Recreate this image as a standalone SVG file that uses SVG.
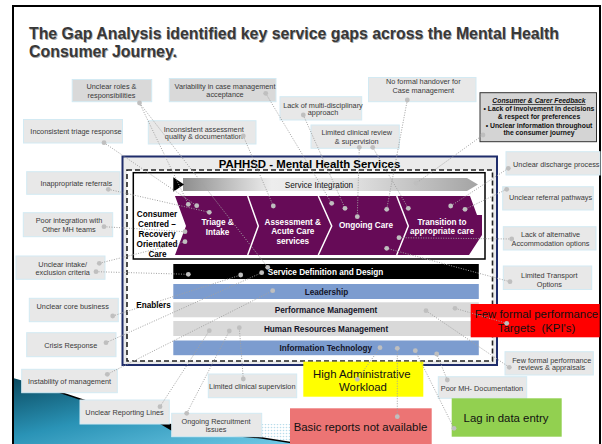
<svg xmlns="http://www.w3.org/2000/svg" width="602" height="444" viewBox="0 0 602 444">
  <defs>
    <linearGradient id="waveFill" x1="0" y1="0" x2="1" y2="1">
      <stop offset="0" stop-color="#0a4a60"/>
      <stop offset="0.45" stop-color="#2a93b6"/>
      <stop offset="1" stop-color="#72cbe8"/>
    </linearGradient>
    <linearGradient id="integration" x1="0" y1="0" x2="1" y2="0">
      <stop offset="0" stop-color="#8e8e8e"/>
      <stop offset="0.3" stop-color="#ededed"/>
      <stop offset="0.55" stop-color="#e4e4e4"/>
      <stop offset="1" stop-color="#a4a4a4"/>
    </linearGradient>
    <pattern id="halftone" width="3" height="3" patternUnits="userSpaceOnUse">
      <circle cx="1.5" cy="1.5" r="0.8" fill="#b9dcea"/>
    </pattern>
    <style>
      text { font-family: "Liberation Sans", Arial, sans-serif; }
      .cb { fill: #e8e8e8; stroke: #d3eaf3; stroke-width: 1; }
      .cbd { fill: #d9d9d9; stroke: #d3eaf3; stroke-width: 1; }
      .ct { font-size: 7.3px; fill: #3a3a3a; text-anchor: middle; }
      .big { font-size: 11.4px; fill: #111; text-anchor: middle; }
      .bt { font-size: 8.2px; font-weight: bold; fill: #141428; text-anchor: middle; }
      .pt { font-size: 8.2px; font-weight: bold; fill: #ffffff; text-anchor: middle; }
      .kt { font-size: 8.2px; font-weight: bold; fill: #000; text-anchor: middle; }
      .ft { font-size: 6.8px; font-weight: bold; fill: #111; text-anchor: middle; }
      .cn { stroke: #a2a2a2; stroke-width: 1; stroke-dasharray: 1 1.5; fill: none; }
      .dt { fill: #bfbfbf; }
      .ttl { font-size: 17px; font-weight: bold; }
    </style>
  </defs>

  <!-- page -->
  <rect x="0" y="0" width="602" height="444" fill="#ffffff"/>

  <!-- wave in the lower left corner -->
  <path d="M13,378 C40,385 60,392 80,399 C110,409 140,417 170,425 C200,432 235,436 262,438 L300,444 L13,444 Z" fill="url(#waveFill)"/>
  <path d="M240,424 L300,424 L300,443 L262,437 Z" fill="url(#halftone)"/>
  <path d="M30,383 C50,389 62,393 80,399 C110,409 140,417 170,425 C200,432 235,436 262,438 L300,444" fill="none" stroke="#000" stroke-width="1.4"/>
  <path d="M150,418 L178,426 L172,431 Z" fill="#000"/>

  <!-- frame -->
  <rect x="13" y="6" width="587" height="450" fill="none" stroke="#000" stroke-width="2"/>

  <!-- title -->
  <g id="title">
    <text class="ttl" x="29.8" y="39.8" fill="#a8a8a8" textLength="530" lengthAdjust="spacingAndGlyphs">The Gap Analysis identified key service gaps across the Mental Health</text>
    <text class="ttl" x="29.8" y="57.8" fill="#a8a8a8" textLength="148" lengthAdjust="spacingAndGlyphs">Consumer Journey.</text>
    <text class="ttl" x="29" y="39" fill="#383838" textLength="530" lengthAdjust="spacingAndGlyphs">The Gap Analysis identified key service gaps across the Mental Health</text>
    <text class="ttl" x="29" y="57" fill="#383838" textLength="148" lengthAdjust="spacingAndGlyphs">Consumer Journey.</text>
  </g>

  <!-- central services panel -->
  <g id="services">
    <rect x="122.5" y="156.5" width="374.5" height="208.5" fill="#ebebeb" stroke="#1f2d6b" stroke-width="2"/>
    <rect x="127" y="170" width="365.5" height="191" fill="#ffffff" stroke="#222" stroke-width="1.6" stroke-dasharray="5 3"/>
    <text x="309.5" y="167.5" font-size="11.4" font-weight="bold" fill="#000" text-anchor="middle">PAHHSD - Mental Health Services</text>
  </g>

  <g id="journey">
    <rect x="133.3" y="172.7" width="351.7" height="86.3" fill="#ffffff" stroke="#000" stroke-width="1.5"/>
    <polygon points="183,178 467,178 478,184.5 467,191 183,191" fill="url(#integration)"/>
    <polygon points="173.3,177.3 184,184.5 173.3,191.7" fill="#000"/>
    <text x="319" y="187.5" font-size="8.2" fill="#111" text-anchor="middle">Service Integration</text>
    <path d="M175,196 L470,196 L477,215 L482,215 L482,235 L469,255 L175,255 L186,226 Z" fill="#660b57"/>
    <polyline points="247.7,196 258.3,226 247.7,255" fill="none" stroke="#fff" stroke-width="1.5"/>
    <polyline points="318.3,196 331.7,226 318.3,255" fill="none" stroke="#fff" stroke-width="1.5"/>
    <polyline points="396.7,196 408.3,226 396.7,255" fill="none" stroke="#fff" stroke-width="1.5"/>
    <text class="kt" x="157" y="216.5">Consumer</text>
    <text class="kt" x="157" y="226.5">Centred –</text>
    <text class="kt" x="157" y="236.5">Recovery</text>
    <text class="kt" x="157" y="246.5">Orientated</text>
    <text class="kt" x="157.5" y="256.5">Care</text>
    <text class="pt" x="217.6" y="225">Triage &amp;</text>
    <text class="pt" x="217.6" y="234.5">Intake</text>
    <text class="pt" x="292.8" y="224.5">Assessment &amp;</text>
    <text class="pt" x="292.8" y="234">Acute Care</text>
    <text class="pt" x="292.8" y="243.5">services</text>
    <text class="pt" x="366" y="227.5">Ongoing Care</text>
    <text class="pt" x="442" y="224.5">Transition to</text>
    <text class="pt" x="442" y="234">appropriate care</text>
  </g>

  <g id="enablers">
    <rect x="173.3" y="264" width="305.5" height="15" fill="#000"/>
    <text class="pt" x="325.5" y="274.8">Service Definition and Design</text>
    <rect x="173.3" y="284" width="305.5" height="15" fill="#7c9ccf"/>
    <text class="bt" x="326.5" y="294.5">Leadership</text>
    <rect x="173.3" y="302.3" width="305.5" height="15" fill="#d9d9d9"/>
    <text class="bt" x="326" y="312.8">Performance Management</text>
    <rect x="173.3" y="321" width="305.5" height="15" fill="#d9d9d9"/>
    <text class="bt" x="326" y="331.6">Human Resources Management</text>
    <rect x="173.3" y="340.5" width="305.5" height="14.7" fill="#7c9ccf"/>
    <text class="bt" x="325.7" y="350.8">Information Technology</text>
    <text class="kt" x="153.5" y="307.5">Enablers</text>
  </g>

  <!-- gap callouts -->
  <g id="gap-roles"><rect class="cbd" x="72.2" y="79.5" width="79.5" height="22.2"/>
    <text class="ct" x="111.5" y="88.5">Unclear roles &amp;</text><text class="ct" x="111.5" y="98">responsibilities</text></g>
  <g id="gap-variability"><rect class="cbd" x="169.3" y="78.5" width="106.7" height="23.2"/>
    <text class="ct" x="225" y="88.5">Variability in case management</text><text class="ct" x="225" y="97">acceptance</text></g>
  <g id="gap-handover"><rect class="cb" x="368.5" y="77.5" width="107.5" height="24.2"/>
    <text class="ct" x="423.3" y="84.3">No formal handover for</text><text class="ct" x="423.3" y="93.3">Case management</text></g>
  <g id="gap-multidisciplinary"><rect class="cb" x="280" y="96.7" width="81.7" height="23.3"/>
    <text class="ct" x="323" y="107.6">Lack of multi-disciplinary</text><text class="ct" x="323" y="115.3">approach</text></g>
  <g id="gap-triage-response"><rect class="cb" x="23.5" y="119.5" width="99" height="23.5"/>
    <text class="ct" x="76" y="133.6">Inconsistent triage response</text></g>
  <g id="gap-assessment"><rect class="cb" x="148.3" y="120.7" width="107.7" height="23.3"/>
    <text class="ct" x="203.8" y="131.6">Inconsistent assessment</text><text class="ct" x="203.8" y="139.3">quality &amp; documentation</text></g>
  <g id="gap-clinical-review"><rect class="cb" x="311" y="125" width="88.3" height="23.3"/>
    <text class="ct" x="356.7" y="135.3">Limited clinical review</text><text class="ct" x="356.7" y="143.5">&amp; supervision</text></g>
  <g id="feedback"><rect x="480" y="92.7" width="116.5" height="49" fill="#d4d4d4" stroke="#333" stroke-width="1"/>
    <text class="ft" x="539" y="103" font-style="italic" text-decoration="underline">Consumer &amp; Carer Feedback</text>
    <text class="ft" x="539" y="111">• Lack of involvement in decisions</text>
    <text class="ft" x="539" y="119">&amp; respect for preferences</text>
    <text class="ft" x="539" y="127.5">• Unclear information throughout</text>
    <text class="ft" x="539" y="135">the consumer journey</text></g>
  <g id="gap-referrals"><rect class="cb" x="26.7" y="171.7" width="93.3" height="22.6"/>
    <text class="ct" x="76.3" y="185.8">Inappropriate referrals</text></g>
  <g id="gap-integration"><rect class="cb" x="23.3" y="212.7" width="89.4" height="24"/>
    <text class="ct" x="69" y="223.3">Poor integration with</text><text class="ct" x="69" y="232">Other MH teams</text></g>
  <g id="gap-intake"><rect class="cb" x="16" y="256" width="89" height="23.3"/>
    <text class="ct" x="62.7" y="266.6">Unclear intake/</text><text class="ct" x="62.7" y="275.3">exclusion criteria</text></g>
  <g id="gap-discharge"><rect class="cb" x="506" y="151.7" width="94" height="23.3"/>
    <text class="ct" x="556.3" y="166.6">Unclear discharge process</text></g>
  <g id="gap-pathways"><rect class="cb" x="502.7" y="186.7" width="90.6" height="23.3"/>
    <text class="ct" x="550.5" y="200">Unclear referral pathways</text></g>
  <g id="gap-accommodation"><rect class="cb" x="503.3" y="226.7" width="92.7" height="23.3"/>
    <text class="ct" x="550.5" y="237">Lack of alternative</text><text class="ct" x="550.5" y="246">Accommodation options</text></g>
  <g id="gap-transport"><rect class="cb" x="503.3" y="266" width="88.4" height="23.5"/>
    <text class="ct" x="549.3" y="277.6">Limited Transport</text><text class="ct" x="549.3" y="286.6">Options</text></g>
  <g id="gap-core-business"><rect class="cb" x="29.3" y="298.3" width="89" height="23.4"/>
    <text class="ct" x="72.7" y="309.3">Unclear core business</text></g>
  <g id="gap-crisis"><rect class="cb" x="26.7" y="332.7" width="89.3" height="24"/>
    <text class="ct" x="70.7" y="347.6">Crisis Response</text></g>
  <g id="gap-instability"><rect class="cb" x="21.7" y="369.3" width="95.6" height="23.4"/>
    <text class="ct" x="69.5" y="383.6">Instability of management</text></g>
  <g id="gap-supervision"><rect class="cb" x="208.3" y="374" width="88.4" height="23.7"/>
    <text class="ct" x="252.3" y="389.3">Limited clinical supervision</text></g>
  <g id="gap-reporting"><rect class="cb" x="80" y="400" width="89.3" height="24"/>
    <text class="ct" x="124.5" y="415">Unclear Reporting Lines</text></g>
  <g id="gap-recruitment"><rect class="cb" x="171.7" y="413.3" width="90" height="23.4"/>
    <text class="ct" x="216" y="424">Ongoing Recruitment</text><text class="ct" x="216" y="432">issues</text></g>
  <g id="gap-reviews"><rect class="cb" x="505" y="351.7" width="88.3" height="23.3"/>
    <text class="ct" x="551.7" y="362.6">Few formal performance</text><text class="ct" x="551.7" y="370.3">reviews &amp; appraisals</text></g>
  <g id="gap-documentation"><rect class="cb" x="438.3" y="376.7" width="88.4" height="21.6"/>
    <text class="ct" x="482" y="391">Poor MH- Documentation</text></g>
  <g id="gap-kpi"><rect x="470.7" y="304" width="129" height="33.3" fill="#ff0000"/>
    <text class="big" x="536.5" y="318.3">Few formal performance</text>
    <text class="big" x="536.5" y="332.3" xml:space="preserve">Targets  (KPI's)</text></g>
  <g id="gap-admin"><rect x="303.3" y="361.7" width="120" height="35" fill="#ffff00"/>
    <text class="big" x="361.8" y="377.6">High Administrative</text>
    <text class="big" x="363" y="390.5">Workload</text></g>
  <g id="gap-reports"><rect x="290" y="408.3" width="141.7" height="40" fill="#ec7474"/>
    <text class="big" x="360.5" y="431">Basic reports not available</text></g>
  <g id="gap-data-entry"><rect x="451.7" y="398.3" width="110" height="38.4" fill="#92d050"/>
    <text class="big" x="506" y="421.8">Lag in data entry</text></g>

  <!-- connectors -->
  <g id="connectors">
    <path class="cn" d="M139.5,103 L188.3,204.3 M139.5,103 L267.7,267.3 M104,142.7 L196.7,205.7 M108.3,189.3 L209.3,212.3 M265.7,93.3 L331.7,203.3 M243.3,136 L273.3,206 M303.3,115 L345,208.3 M359.3,147.3 L357.3,216.7 M372.7,147.3 L408.3,208.3 M407.3,100 L386.7,209.3 M483,135 L416,183.3 M508.3,168.3 L450.7,206 M506.7,189.3 L465,209.3 M511.7,239 L399,237.7 M510,281.7 L386.7,248.3 M104,226.7 L185,231.7 M99.3,263.3 L185,241.7 M96,271.7 L188.3,274.3 M112.7,316 L240.7,275 M106,342.7 L261.7,272.7 M107.3,374.3 L272.7,290.7 M160,406.7 L209.3,330.7 M186.7,413.3 L229.3,331 M243.3,379 L239.3,327.7 M357.3,379.3 L380,347.7 M397.3,416.7 L397.3,348.3 M454,428.3 L415.3,350.7 M447.3,380 L436.7,354 M509.3,367.3 L426,310.7 M506.7,323.3 L455,308.3"/>
    <g class="dt">
      <circle cx="139.5" cy="103" r="2.4"/><circle cx="188.3" cy="204.3" r="2.4"/><circle cx="267.7" cy="267.3" r="2.4"/>
      <circle cx="104" cy="142.7" r="2.4"/><circle cx="196.7" cy="205.7" r="2.4"/>
      <circle cx="108.3" cy="189.3" r="2.4"/><circle cx="209.3" cy="212.3" r="2.4"/>
      <circle cx="265.7" cy="93.3" r="2.4"/><circle cx="331.7" cy="203.3" r="2.4"/>
      <circle cx="243.3" cy="136" r="2.4"/><circle cx="273.3" cy="206" r="2.4"/>
      <circle cx="303.3" cy="115" r="2.4"/><circle cx="345" cy="208.3" r="2.4"/>
      <circle cx="359.3" cy="147.3" r="2.4"/><circle cx="357.3" cy="216.7" r="2.4"/>
      <circle cx="372.7" cy="147.3" r="2.4"/><circle cx="408.3" cy="208.3" r="2.4"/>
      <circle cx="407.3" cy="100" r="2.4"/><circle cx="386.7" cy="209.3" r="2.4"/>
      <circle cx="483" cy="135" r="2.4"/><circle cx="416" cy="183.3" r="2.4"/>
      <circle cx="508.3" cy="168.3" r="2.4"/><circle cx="450.7" cy="206" r="2.4"/>
      <circle cx="506.7" cy="189.3" r="2.4"/><circle cx="465" cy="209.3" r="2.4"/>
      <circle cx="511.7" cy="239" r="2.4"/><circle cx="399" cy="237.7" r="2.4"/>
      <circle cx="510" cy="281.7" r="2.4"/><circle cx="386.7" cy="248.3" r="2.4"/>
      <circle cx="104" cy="226.7" r="2.4"/><circle cx="185" cy="231.7" r="2.4"/>
      <circle cx="99.3" cy="263.3" r="2.4"/><circle cx="185" cy="241.7" r="2.4"/>
      <circle cx="96" cy="271.7" r="2.4"/><circle cx="188.3" cy="274.3" r="2.4"/>
      <circle cx="112.7" cy="316" r="2.4"/><circle cx="240.7" cy="275" r="2.4"/>
      <circle cx="106" cy="342.7" r="2.4"/><circle cx="261.7" cy="272.7" r="2.4"/>
      <circle cx="107.3" cy="374.3" r="2.4"/><circle cx="272.7" cy="290.7" r="2.4"/>
      <circle cx="160" cy="406.7" r="2.4"/><circle cx="209.3" cy="330.7" r="2.4"/>
      <circle cx="186.7" cy="413.3" r="2.4"/><circle cx="229.3" cy="331" r="2.4"/>
      <circle cx="243.3" cy="379" r="2.4"/><circle cx="239.3" cy="327.7" r="2.4"/>
      <circle cx="357.3" cy="379.3" r="2.4"/><circle cx="380" cy="347.7" r="2.4"/>
      <circle cx="397.3" cy="416.7" r="2.4"/><circle cx="397.3" cy="348.3" r="2.4"/>
      <circle cx="454" cy="428.3" r="2.4"/><circle cx="415.3" cy="350.7" r="2.4"/>
      <circle cx="447.3" cy="380" r="2.4"/><circle cx="436.7" cy="354" r="2.4"/>
      <circle cx="509.3" cy="367.3" r="2.4"/><circle cx="426" cy="310.7" r="2.4"/>
      <circle cx="506.7" cy="323.3" r="2.4"/><circle cx="455" cy="308.3" r="2.4"/>
    </g>
  </g>
</svg>
